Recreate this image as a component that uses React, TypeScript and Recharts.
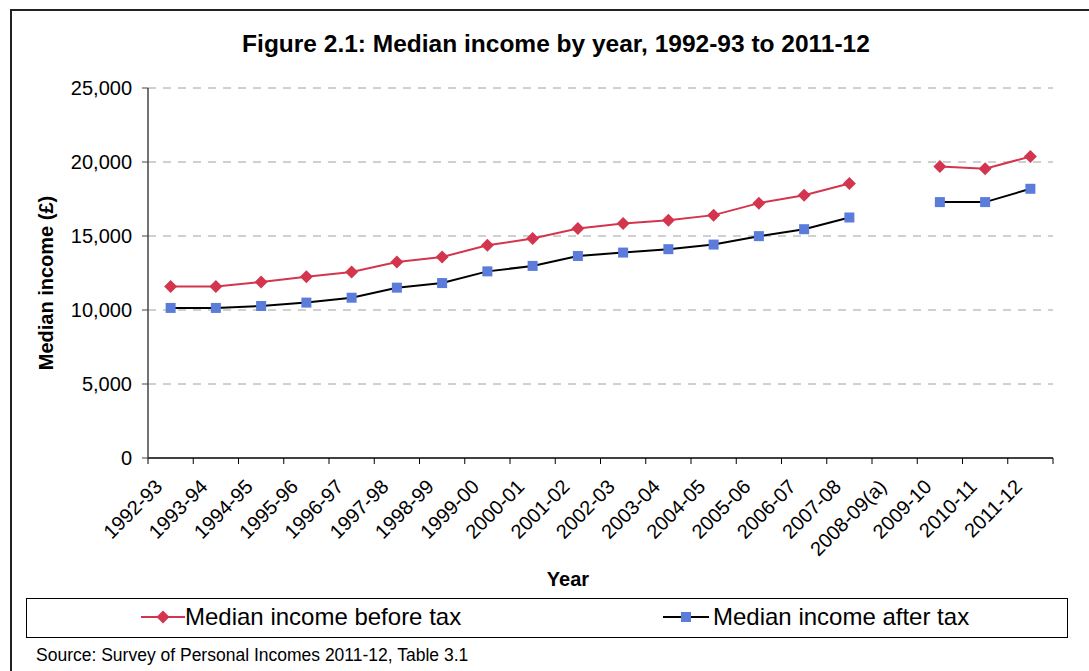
import { LineChart, Line, XAxis, YAxis, CartesianGrid, Legend } from "recharts";

const years = [
  "1992-93", "1993-94", "1994-95", "1995-96", "1996-97", "1997-98", "1998-99",
  "1999-00", "2000-01", "2001-02", "2002-03", "2003-04", "2004-05", "2005-06",
  "2006-07", "2007-08", "2008-09(a)", "2009-10", "2010-11", "2011-12",
];
// 2008-09 has no figures (gap in the series)
const beforeTax = [
  11580, 11580, 11890, 12250, 12570, 13240, 13580, 14370, 14830, 15500,
  15840, 16070, 16410, 17220, 17760, 18550, null, 19700, 19540, 20370,
];
const afterTax = [
  10140, 10140, 10270, 10500, 10830, 11510, 11820, 12610, 12980, 13650,
  13880, 14110, 14420, 14990, 15460, 16250, null, 17290, 17290, 18190,
];
const yTicks = [0, 5000, 10000, 15000, 20000, 25000];

const data = years.map((year, i) => ({
  year,
  before: beforeTax[i],
  after: afterTax[i],
}));

const W = 1089;
const H = 671;
const PLOT_LEFT = 148;
const PLOT_RIGHT = 1053;
const band = (PLOT_RIGHT - PLOT_LEFT) / years.length;

const RED = "#d3354f";
const BLUE = "#5b7cdb";
const FONT = "'Liberation Sans', Arial, sans-serif";

const Diamond = (props: any) => {
  const { cx, cy, key } = props;
  if (cx == null || cy == null) return <g key={key} />;
  const r = 6.5;
  return (
    <polygon
      key={key}
      points={`${cx},${cy - r} ${cx + r},${cy} ${cx},${cy + r} ${cx - r},${cy}`}
      fill={RED}
    />
  );
};

const Square = (props: any) => {
  const { cx, cy, key } = props;
  if (cx == null || cy == null) return <g key={key} />;
  const s = 10;
  return <rect key={key} x={cx - s / 2} y={cy - s / 2} width={s} height={s} fill={BLUE} />;
};

const XTick = (props: any) => {
  const { x, y, payload, index } = props;
  const last = index === years.length - 1;
  return (
    <g>
      <line x1={x - band / 2} x2={x - band / 2} y1={y} y2={y + 6} stroke="#000" />
      {last && <line x1={x + band / 2} x2={x + band / 2} y1={y} y2={y + 6} stroke="#000" />}
      <text
        x={x - 7}
        y={y + 30}
        textAnchor="end"
        fontSize={20}
        fontFamily={FONT}
        fill="#000"
        transform={`rotate(-45 ${x - 7} ${y + 30})`}
      >
        {payload.value}
      </text>
    </g>
  );
};

const renderLegend = () => (
  <div
    style={{
      width: "100%",
      height: "100%",
      boxSizing: "border-box",
      border: "1px solid #000",
      position: "relative",
      fontFamily: FONT,
      fontSize: 24,
      color: "#000",
    }}
  >
    <div style={{ position: "absolute", left: 114, top: 4, display: "flex", alignItems: "center" }}>
      <svg width={44} height={20}>
        <line x1={0} x2={44} y1={10} y2={10} stroke={RED} strokeWidth={2} />
        <polygon points="22,3.5 28.5,10 22,16.5 15.5,10" fill={RED} />
      </svg>
      <span style={{ marginLeft: 0 }}>Median income before tax</span>
    </div>
    <div style={{ position: "absolute", left: 636, top: 4, display: "flex", alignItems: "center" }}>
      <svg width={46} height={20}>
        <line x1={0} x2={46} y1={10} y2={10} stroke="#000" strokeWidth={2} />
        <rect x={18} y={5} width={10} height={10} fill={BLUE} />
      </svg>
      <span style={{ marginLeft: 4 }}>Median income after tax</span>
    </div>
  </div>
);

export default function App() {
  return (
    <div
      style={{
        position: "fixed",
        left: 0,
        top: 0,
        width: W,
        height: H,
        background: "#fff",
        fontFamily: FONT,
        overflow: "hidden",
      }}
    >
      {/* outer frame */}
      <div
        style={{
          position: "absolute",
          left: 10,
          top: 9,
          width: W,
          height: H,
          borderLeft: "2px solid #222",
          borderTop: "2px solid #222",
        }}
      />
      <div
        style={{
          position: "absolute",
          left: 0,
          width: 1112,
          top: 30,
          textAlign: "center",
          fontSize: 24.5,
          fontWeight: 700,
        }}
      >
        Figure 2.1: Median income by year, 1992-93 to 2011-12
      </div>
      <div
        style={{
          position: "absolute",
          left: 46,
          top: 283,
          transform: "translate(-50%, -50%) rotate(-90deg)",
          whiteSpace: "nowrap",
          fontSize: 20,
          fontWeight: 700,
        }}
      >
        Median income (£)
      </div>
      <div
        style={{
          position: "absolute",
          left: 468,
          width: 200,
          top: 568,
          textAlign: "center",
          fontSize: 20,
          fontWeight: 700,
        }}
      >
        Year
      </div>
      <div style={{ position: "absolute", left: 36, top: 645, fontSize: 17.5 }}>
        Source: Survey of Personal Incomes 2011-12, Table 3.1
      </div>
      <div style={{ position: "absolute", left: 0, top: 0 }}>
        <LineChart
          width={W}
          height={H}
          data={data}
          margin={{ top: 88, left: PLOT_LEFT - 80, right: W - PLOT_RIGHT, bottom: H - 458 - 110 }}
        >
          <CartesianGrid
            horizontal
            vertical={false}
            stroke="#a0a0a0"
            strokeDasharray="8 7"
            horizontalValues={[5000, 10000, 15000, 20000, 25000]}
          />
          <XAxis
            dataKey="year"
            interval={0}
            height={110}
            padding={{ left: band / 2, right: band / 2 }}
            tickSize={0}
            tickMargin={0}
            tickLine={false}
            axisLine={{ stroke: "#000", strokeWidth: 1.5 }}
            tick={<XTick />}
          />
          <YAxis
            width={80}
            domain={[0, 25000]}
            ticks={yTicks}
            interval={0}
            tickSize={6}
            tickMargin={10}
            axisLine={{ stroke: "#444", strokeWidth: 1.5 }}
            tickLine={{ stroke: "#444" }}
            tickFormatter={(v: number) => v.toLocaleString("en-GB")}
            tick={{ fill: "#000", fontSize: 20, fontFamily: FONT }}
          />
          <Legend
            layout="horizontal"
            verticalAlign="middle"
            align="center"
            content={renderLegend}
            wrapperStyle={{ left: 26, top: 598, width: 1042, height: 40 }}
          />
          <Line
            name="Median income before tax"
            dataKey="before"
            stroke={RED}
            strokeWidth={2}
            dot={Diamond}
            activeDot={false}
            isAnimationActive={false}
          />
          <Line
            name="Median income after tax"
            dataKey="after"
            stroke="#000"
            strokeWidth={2}
            dot={Square}
            activeDot={false}
            isAnimationActive={false}
          />
        </LineChart>
      </div>
    </div>
  );
}
